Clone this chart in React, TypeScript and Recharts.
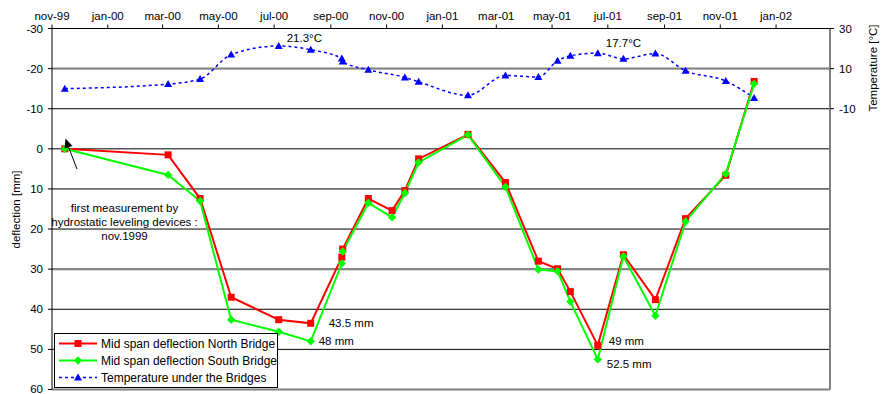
import React from 'react';
import { LineChart, Line, XAxis, YAxis, CartesianGrid, ReferenceLine, LabelList } from 'recharts';

const FONT = '"Liberation Sans", Arial, sans-serif';

// measurement campaigns (hydrostatic leveling, mid span)
const measureDates = [
  '1999-11-15', '2000-03-07', '2000-04-11', '2000-05-15', '2000-07-06', '2000-08-10',
  '2000-09-13', '2000-09-14', '2000-10-12', '2000-11-07', '2000-11-21', '2000-12-06',
  '2001-01-29', '2001-03-11', '2001-04-16', '2001-05-07', '2001-05-21', '2001-06-20',
  '2001-07-18', '2001-08-22', '2001-09-24', '2001-11-07', '2001-12-08',
];
const northDeflection = [
  0, 1.5, 12.4, 37, 42.6, 43.5, 27, 25, 12.4, 15.4, 10.4, 2.5,
  -3.6, 8.4, 28, 29.9, 35.6, 49, 26.4, 37.6, 17.4, 6.6, -16.8,
];
const southDeflection = [
  0, 6.5, 13, 42.6, 45.6, 48, 28.6, 25.6, 13.5, 17.1, 11, 3.4,
  -3.5, 9.5, 30.1, 30.5, 38.1, 52.5, 26.8, 41.6, 18.1, 6.2, -16.2,
];
const temperature = [
  0, 2.3, 4.8, 17, 21.3, 19.4, 15, 13.5, 9.4, null, 5.6, 3.4,
  -3.3, 6.6, 5.8, 13.9, 16.4, 17.7, 14.9, 17.5, 8.9, 3.8, -4.6,
];

const deflectionTicks = [-30, -20, -10, 0, 10, 20, 30, 40, 50, 60];
const temperatureTicks = [30, 10, -10];
const monthTicks = [
  '1999-11-01', '2000-01-01', '2000-03-01', '2000-05-01', '2000-07-01', '2000-09-01', '2000-11-01',
  '2001-01-01', '2001-03-01', '2001-05-01', '2001-07-01', '2001-09-01', '2001-11-01', '2002-01-01',
];
const MONTHS = ['jan', 'feb', 'mar', 'apr', 'may', 'jun', 'jul', 'aug', 'sep', 'oct', 'nov', 'dec'];

const toTime = (s: string) => Date.parse(s + 'T00:00:00Z');
const fmtMonth = (t: number) => {
  const d = new Date(t);
  return `${MONTHS[d.getUTCMonth()]}-${String(d.getUTCFullYear() % 100).padStart(2, '0')}`;
};

const data = measureDates.map((d, i) => ({
  t: toTime(d),
  north: northDeflection[i],
  south: southDeflection[i],
  temp: temperature[i],
}));

const RED = '#FF0000';
const GREEN = '#00FF00';
const BLUE = '#0000FF';
const GREY = '#808080';

const square = (cx: number, cy: number, key?: string) => (
  <rect key={key} x={cx - 3.5} y={cy - 3.5} width={7} height={7} fill={RED} />
);
const diamond = (cx: number, cy: number, key?: string) => (
  <polygon key={key} points={`${cx},${cy - 4.2} ${cx + 4.2},${cy} ${cx},${cy + 4.2} ${cx - 4.2},${cy}`} fill={GREEN} />
);
const triangle = (cx: number, cy: number, key?: string) => (
  <polygon key={key} points={`${cx},${cy - 4} ${cx + 4},${cy + 3} ${cx - 4},${cy + 3}`} fill={BLUE} />
);

const dotOf = (shape: typeof square, tag: string) => (p: any) => {
  const k = `${tag}-${p.index}`;
  if (p.cx == null || p.cy == null || p.value == null) return <g key={k} />;
  return shape(p.cx, p.cy, k);
};

// value notes next to the extreme points: index -> offset of the text baseline
const northNotes: Record<number, [number, number]> = { 5: [18, 4], 17: [11, 0] };
const southNotes: Record<number, [number, number]> = { 5: [8, 4], 17: [9, 8.5] };
const tempNotes: Record<number, [number, number]> = { 4: [8, -3.5], 17: [8, -6] };

const noteOf = (notes: Record<number, [number, number]>, unit: string) => (p: any) => {
  const off = notes[p.index];
  if (!off || p.value == null) return null;
  const x = p.viewBox?.x ?? p.x;
  const y = p.viewBox?.y ?? p.y;
  return (
    <text key={`note-${unit}-${p.index}`} x={x + off[0]} y={y + off[1]} fontSize={11.5} fontFamily={FONT} fill="#000">
      {`${p.value}${unit}`}
    </text>
  );
};

// left tick labels, the lowest one kept inside the page
const DeflectionTick = (p: any) => {
  const y = Math.min(p.y, 388.5);
  return (
    <text x={p.x} y={y} dy="0.35em" textAnchor="end" fontSize={11.5} fontFamily={FONT} fill="#000">
      {p.payload.value}
    </text>
  );
};

const legendItems = [
  { name: 'Mid span deflection North Bridge', color: RED, shape: square, dash: undefined as string | undefined },
  { name: 'Mid span deflection South Bridge', color: GREEN, shape: diamond, dash: undefined },
  { name: 'Temperature under the Bridges', color: BLUE, shape: triangle, dash: '3 3' },
];

const LegendBox = () => (
  <div
    style={{
      position: 'absolute', left: 54, top: 333, width: 222, padding: '1px 0',
      border: '1px solid #000', background: '#fff', fontFamily: FONT, fontSize: 12,
    }}
  >
    {legendItems.map((it) => (
      <div key={it.name} style={{ display: 'flex', alignItems: 'center', height: 17 }}>
        <svg width={46} height={17} style={{ display: 'block' }}>
          <line x1={4} x2={42} y1={8.5} y2={8.5} stroke={it.color} strokeWidth={it.dash ? 1.5 : 2} strokeDasharray={it.dash} />
          {it.shape(23, 8.5)}
        </svg>
        <span style={{ whiteSpace: 'nowrap' }}>{it.name}</span>
      </div>
    ))}
  </div>
);

const tickStyle = { fill: '#000', fontSize: 11.5, fontFamily: FONT };

export default function App() {
  return (
    <div style={{ position: 'absolute', left: 0, top: 0, width: 882, height: 394, background: '#fff' }}>
      <LineChart width={882} height={394} data={data} margin={{ top: 8.5, right: 8, bottom: 4.5, left: 8 }}>
        <CartesianGrid yAxisId="left" vertical={false} stroke="#000" strokeWidth={1} />
        <XAxis
          dataKey="t"
          type="number"
          orientation="top"
          domain={[toTime('1999-11-01'), toTime('2002-03-01')]}
          ticks={monthTicks.map(toTime)}
          tickFormatter={fmtMonth}
          interval={0}
          height={20}
          tickSize={4}
          tickMargin={5}
          stroke="#000"
          tick={tickStyle}
        />
        <YAxis
          yAxisId="left"
          reversed
          domain={[-30, 60]}
          ticks={deflectionTicks}
          interval={0}
          width={44}
          tickSize={4}
          tickMargin={5}
          stroke="#000"
          tick={<DeflectionTick />}
        />
        <YAxis
          yAxisId="right"
          orientation="right"
          domain={[-150, 30]}
          ticks={temperatureTicks}
          interval={0}
          width={44}
          tickSize={4}
          tickMargin={5}
          axisLine={{ stroke: GREY, strokeWidth: 2 }}
          tickLine={{ stroke: '#000' }}
          tick={tickStyle}
        />
        <ReferenceLine yAxisId="left" y={-20} stroke={GREY} strokeWidth={2} />
        <ReferenceLine yAxisId="left" y={30} stroke={GREY} strokeWidth={2} />
        <ReferenceLine yAxisId="left" y={60} stroke={GREY} strokeWidth={2} />
        <Line
          yAxisId="right"
          dataKey="temp"
          type="monotone"
          connectNulls
          stroke={BLUE}
          strokeWidth={1.5}
          strokeDasharray="3 3"
          dot={dotOf(triangle, 't')}
          activeDot={false}
          isAnimationActive={false}
        >
          <LabelList dataKey="temp" content={noteOf(tempNotes, '°C')} />
        </Line>
        <Line
          yAxisId="left"
          dataKey="north"
          type="linear"
          stroke={RED}
          strokeWidth={2}
          dot={dotOf(square, 'n')}
          activeDot={false}
          isAnimationActive={false}
        >
          <LabelList dataKey="north" content={noteOf(northNotes, ' mm')} />
        </Line>
        <Line
          yAxisId="left"
          dataKey="south"
          type="linear"
          stroke={GREEN}
          strokeWidth={2}
          dot={dotOf(diamond, 's')}
          activeDot={false}
          isAnimationActive={false}
        >
          <LabelList dataKey="south" content={noteOf(southNotes, ' mm')} />
        </Line>
      </LineChart>
      <svg width={882} height={394} style={{ position: 'absolute', left: 0, top: 0, pointerEvents: 'none' }}>
        <g fontFamily={FONT} fontSize={11.5} fill="#000">
          <text x={16} y={209.5} textAnchor="middle" dominantBaseline="central" transform="rotate(-90 16 209.5)">
            deflection [mm]
          </text>
          <text x={873} y={68} textAnchor="middle" dominantBaseline="central" transform="rotate(-90 873 68)">
            Temperature [°C]
          </text>
          <text x={124.5} y={212} textAnchor="middle">first measurement by</text>
          <text x={124.5} y={226} textAnchor="middle">hydrostatic leveling devices :</text>
          <text x={124.5} y={240} textAnchor="middle">nov.1999</text>
        </g>
        <line x1={77} y1={169} x2={68.5} y2={147} stroke="#000" strokeWidth={1} />
        <polygon points="65.5,138.5 72.5,146 64.5,148.5" fill="#000" />
      </svg>
      <LegendBox />
    </div>
  );
}
